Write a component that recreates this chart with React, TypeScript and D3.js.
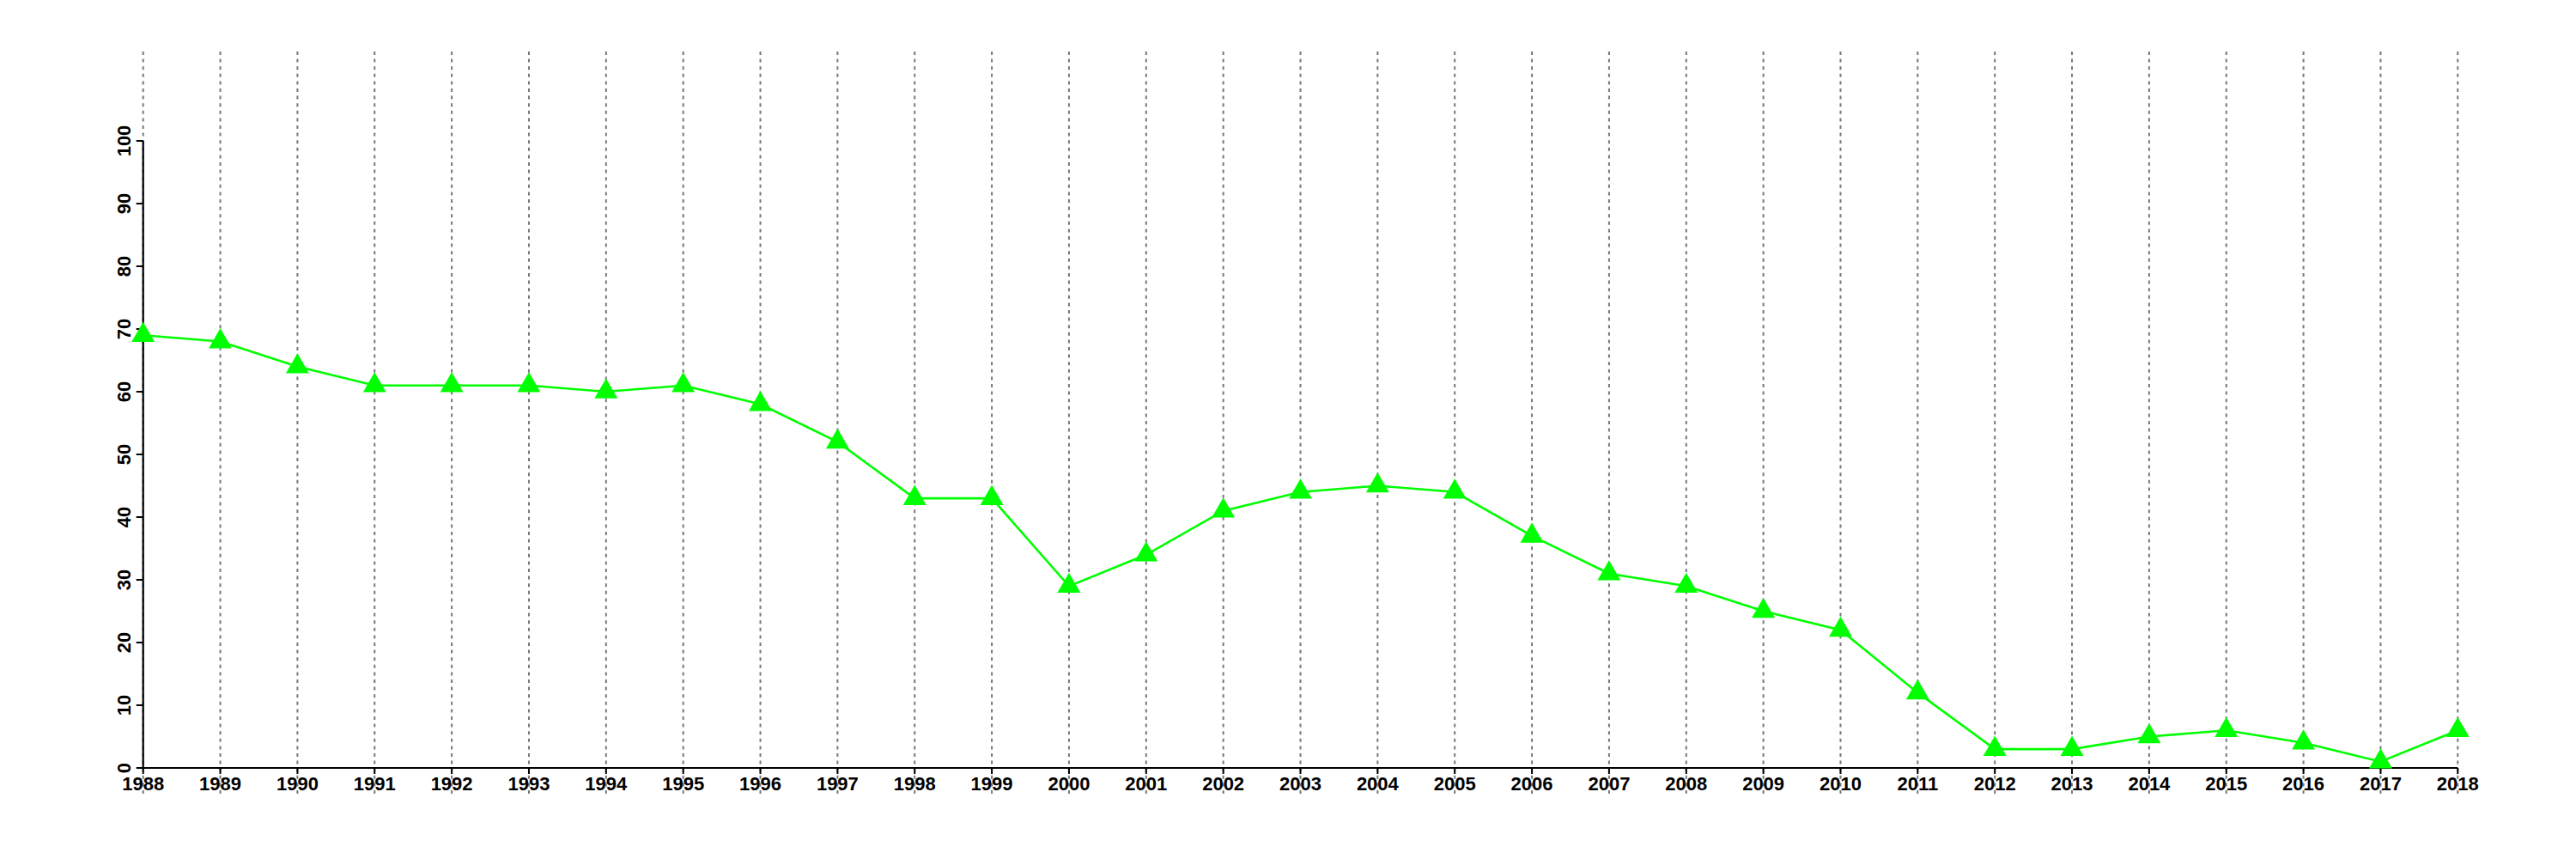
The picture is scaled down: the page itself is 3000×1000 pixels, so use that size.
import React from "react";
import * as d3 from "d3";

const years: number[] = [
  1988, 1989, 1990, 1991, 1992, 1993, 1994, 1995, 1996, 1997, 1998, 1999, 2000,
  2001, 2002, 2003, 2004, 2005, 2006, 2007, 2008, 2009, 2010, 2011, 2012, 2013,
  2014, 2015, 2016, 2017, 2018,
];
const values: number[] = [
  69, 68, 64, 61, 61, 61, 60, 61, 58, 52, 43, 43, 29, 34, 41, 44, 45, 44, 37,
  31, 29, 25, 22, 12, 3, 3, 5, 6, 4, 1, 6,
];
const yTicks: number[] = [0, 10, 20, 30, 40, 50, 60, 70, 80, 90, 100];

const W = 3000;
const H = 1000;
const FONT = "'Liberation Sans', Arial, Helvetica, sans-serif";

export default function App() {
  const x = d3.scaleLinear().domain([1988, 2018]).range([166.7, 2862.3]);
  const y = d3.scaleLinear().domain([0, 100]).range([894, 164]);
  const line = d3
    .line<number>()
    .x((_, i) => x(years[i]))
    .y((d) => y(d));
  const tri = d3.symbol().type(d3.symbolTriangle).size(315)();

  return (
    <svg
      width={W}
      height={H}
      style={{ position: "absolute", left: 0, top: 0, background: "#fff" }}
    >
      <rect x={0} y={0} width={W} height={H} fill="#fff" />
      {/* vertical dashed grid */}
      {years.map((yr) => (
        <line
          key={"g" + yr}
          x1={x(yr)}
          x2={x(yr)}
          y1={60}
          y2={927}
          stroke="#777"
          strokeWidth={2}
          strokeDasharray="4,4.6"
        />
      ))}
      {/* x axis */}
      <line x1={x(1988)} x2={x(2018)} y1={y(0)} y2={y(0)} stroke="#000" strokeWidth={2.2} />
      {years.map((yr) => (
        <g key={"xt" + yr}>
          <line x1={x(yr)} x2={x(yr)} y1={y(0)} y2={y(0) + 7} stroke="#000" strokeWidth={2} />
          <text
            x={x(yr)}
            y={920}
            textAnchor="middle"
            fontFamily={FONT}
            fontWeight="bold"
            fontSize={22}
            fill="#000"
          >
            {yr}
          </text>
        </g>
      ))}
      {/* y axis */}
      <line x1={x(1988)} x2={x(1988)} y1={y(0)} y2={y(100)} stroke="#000" strokeWidth={2.2} />
      {yTicks.map((t) => (
        <g key={"yt" + t}>
          <line x1={x(1988) - 8} x2={x(1988)} y1={y(t)} y2={y(t)} stroke="#000" strokeWidth={2} />
          <text
            transform={`translate(152,${y(t)}) rotate(-90)`}
            textAnchor="middle"
            fontFamily={FONT}
            fontWeight="bold"
            fontSize={22}
            fill="#000"
          >
            {t}
          </text>
        </g>
      ))}
      {/* series */}
      <path d={line(values) || ""} fill="none" stroke="#00ff00" strokeWidth={2.6} />
      {values.map((v, i) => (
        <path
          key={"m" + i}
          d={tri || ""}
          transform={`translate(${x(years[i])},${y(v)})`}
          fill="#00ff00"
        />
      ))}
    </svg>
  );
}
